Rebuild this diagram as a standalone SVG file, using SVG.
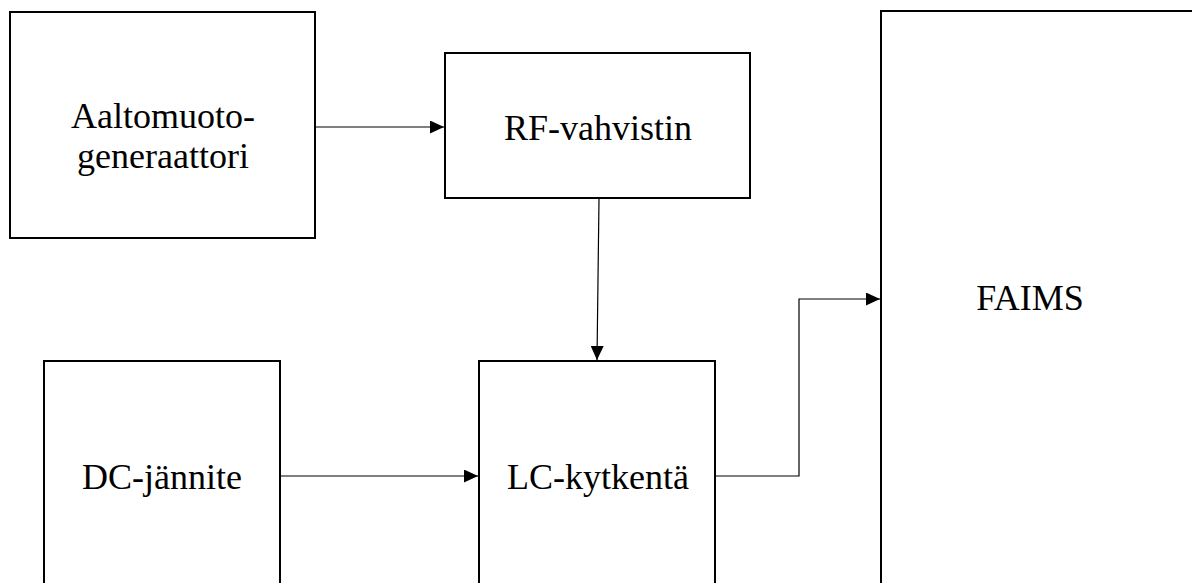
<svg xmlns="http://www.w3.org/2000/svg" width="1192" height="583" viewBox="0 0 1192 583">
<style>
.box{fill:#fff;stroke:#000;stroke-width:2}
.lbl{font-family:"Liberation Serif","Times New Roman",serif;font-size:36px;fill:#000;text-anchor:middle}
.con{fill:none;stroke:#000;stroke-width:1.2}
</style>
<defs>
<marker id="ah" viewBox="0 0 14 13" refX="14" refY="6.5" markerWidth="14" markerHeight="13" markerUnits="userSpaceOnUse" orient="auto">
<path d="M0,0 L14,6.5 L0,13 Z" fill="#000"/>
</marker>
</defs>
<rect width="1192" height="583" fill="#fff"/>
<g id="node-aalto">
<rect class="box" x="10" y="12" width="305" height="226"/>
<text class="lbl" x="163" y="128">Aaltomuoto-</text>
<text class="lbl" x="163" y="168">generaattori</text>
</g>
<g id="node-rf">
<rect class="box" x="445" y="53" width="305" height="145"/>
<text class="lbl" x="598" y="140">RF-vahvistin</text>
</g>
<g id="node-faims">
<rect class="box" x="881" y="11" width="400" height="700"/>
<text class="lbl" x="1030" y="310">FAIMS</text>
</g>
<g id="node-dc">
<rect class="box" x="44" y="361" width="236" height="300"/>
<text class="lbl" x="162" y="489">DC-jännite</text>
</g>
<g id="node-lc">
<rect class="box" x="479" y="361" width="236" height="300"/>
<text class="lbl" x="598" y="489">LC-kytkentä</text>
</g>
<g id="connectors">
<path class="con" d="M316,127 L444,127" marker-end="url(#ah)"/>
<path class="con" d="M599,199 L597,360" marker-end="url(#ah)"/>
<path class="con" d="M281,476 L478,476" marker-end="url(#ah)"/>
<path class="con" d="M716,476 L799,476 L799,299 L880,299" marker-end="url(#ah)"/>
</g>
</svg>
